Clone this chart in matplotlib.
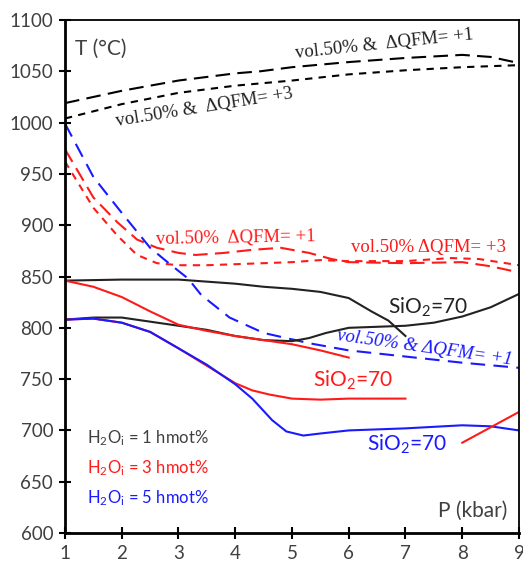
import matplotlib.pyplot as plt

plt.rcParams['font.family'] = ['Lato', 'DejaVu Sans']
plt.rcParams['mathtext.fontset'] = 'custom'
plt.rcParams['mathtext.rm'] = 'Lato'
plt.rcParams['mathtext.it'] = 'Lato:italic'

GREY = '#404040'
RED = '#ff1a1a'
BLUE = '#1a1aff'

# dashed curves (vol.50%)
blk_q1_x = [1, 2, 3, 4, 4.44, 5, 6, 7, 8, 8.5, 9]
blk_q1_t = [1019, 1031, 1041, 1048, 1050, 1054, 1059, 1063, 1066, 1064, 1058]
blk_q3_x = [1, 2, 3, 4, 5, 6, 7, 8, 9]
blk_q3_t = [1004, 1018, 1029, 1036, 1041, 1047, 1051, 1054, 1056]

red_q1_x = [1, 1.5, 1.92, 2.27, 2.62, 3.0, 3.3, 3.8, 4.3, 4.8, 5.3, 5.7, 6, 7, 8, 8.5, 9]
red_q1_t = [974, 927, 903, 886, 878, 873, 871, 873, 876, 878, 873, 867, 864, 863, 864, 860, 854]
red_q3_x = [1, 1.5, 1.92, 2.27, 2.62, 3.0, 3.5, 4, 5, 5.5, 6, 7, 7.8, 8.3, 9]
red_q3_t = [962, 917, 890, 871, 863, 861, 861, 862, 864, 866, 865, 865, 868, 867, 861]

blu_q1_x = [1, 1.5, 2, 2.5, 2.85, 3.17, 3.4, 3.9, 4.5, 5.3, 6, 7, 8, 9]
blu_q1_t = [999, 947, 912, 878, 862, 848, 832, 810, 795, 785, 778, 772, 766, 761]

# solid curves
blk_up_x = [1, 2, 2.5, 3, 3.5, 4, 4.5, 5, 5.5, 6, 6.4, 6.7, 7]
blk_up_t = [846, 847, 847, 847, 845, 843, 840, 838, 835, 829, 816, 807, 792]
blk_lo_x = [1, 1.5, 2, 2.5, 3, 3.5, 4, 4.5, 5, 5.3, 5.6, 6, 6.5, 7, 7.5, 8, 8.5, 9]
blk_lo_t = [808, 810, 810, 806, 802, 798, 792, 788, 787, 790, 795, 800, 801, 802, 805, 811, 820, 833]

red_up_x = [1, 1.5, 2, 2.5, 3, 3.5, 4, 4.5, 5, 5.5, 6]
red_up_t = [846, 840, 830, 816, 803, 797, 792, 788, 784, 778, 771]
red_lo_x = [1, 1.5, 2, 2.5, 3, 3.5, 4, 4.3, 4.6, 5, 5.5, 6, 7]
red_lo_t = [808, 809, 805, 796, 780, 763, 746, 739, 735, 731, 730, 731, 731]
red_seg_x = [8, 9]
red_seg_t = [688, 718]

blu_x = [1, 1.5, 2, 2.5, 3, 3.5, 4, 4.3, 4.65, 4.9, 5.2, 5.5, 6, 7, 8, 8.5, 9]
blu_t = [808, 809, 805, 796, 780, 764, 745, 731, 710, 699, 695, 697, 700, 702, 705, 704, 700]

fig = plt.figure(figsize=(5.23, 5.65), dpi=100)
ax = fig.add_axes([0.1243, 0.0566, 0.868, 0.908])

lw = 1.5
ax.plot(blk_q1_x, blk_q1_t, color='black', lw=lw, dashes=(7, 3.5))
ax.plot(blk_q3_x, blk_q3_t, color='black', lw=lw, dashes=(3.5, 3))
ax.plot(red_q1_x, red_q1_t, color=RED, lw=lw, dashes=(7, 3.5))
ax.plot(red_q3_x, red_q3_t, color=RED, lw=lw, dashes=(3.5, 3))
ax.plot(blu_q1_x, blu_q1_t, color=BLUE, lw=lw, dashes=(7, 4))

ax.plot(blk_up_x, blk_up_t, color='#222222', lw=lw)
ax.plot(blk_lo_x, blk_lo_t, color='#222222', lw=lw)
ax.plot(red_lo_x, red_lo_t, color=RED, lw=lw)
ax.plot(blu_x, blu_t, color=BLUE, lw=lw)
ax.plot(red_up_x, red_up_t, color=RED, lw=lw)
ax.plot(red_seg_x, red_seg_t, color=RED, lw=lw)

ax.set_xlim(1, 9)
ax.set_ylim(600, 1100)
ax.set_xticks(range(1, 10))
ax.set_yticks(range(600, 1101, 50))
ax.tick_params(direction='inout', length=9, width=1.5, labelsize=13.5,
               labelcolor=GREY, pad=4)
for s in ['left', 'bottom']:
    ax.spines[s].set_linewidth(2)
for s in ['top', 'right']:
    ax.spines[s].set_linewidth(1.3)

serif = 'Liberation Serif'
ax.text(6.62, 1076, 'vol.50% &  ΔQFM= +1', family=serif, fontsize=13.5, color='#222222',
        rotation=6, ha='center', va='center')
ax.text(3.46, 1015, 'vol.50% &  ΔQFM= +3', family=serif, fontsize=13.5, color='#222222',
        rotation=9, ha='center', va='center')
ax.text(4.0, 887, 'vol.50%  ΔQFM= +1', family=serif, fontsize=13.5, color=RED,
        rotation=1, ha='center', va='center')
ax.text(7.4, 878, 'vol.50% ΔQFM= +3', family=serif, fontsize=13.5, color=RED,
        ha='center', va='center')
ax.text(7.34, 780, 'vol.50% & ΔQFM= +1', family=serif, fontsize=13.5, color=BLUE,
        style='italic', rotation=-8, ha='center', va='center')

ax.text(7.4, 820, r'SiO$_2$=70', fontsize=15, color='#222222', ha='center', va='center')
ax.text(6.08, 749, r'SiO$_2$=70', fontsize=15, color=RED, ha='center', va='center')
ax.text(7.03, 686, r'SiO$_2$=70', fontsize=15, color=BLUE, ha='center', va='center')

ax.text(1.18, 1072, 'T (°C)', fontsize=15, color=GREY, ha='left', va='center')
ax.text(8.19, 622, 'P (kbar)', fontsize=15, color=GREY, ha='center', va='center')

ax.text(1.38, 692, r'H$_2$O$_\mathrm{i}$ = 1 hmot%', fontsize=12, color=GREY, va='center')
ax.text(1.38, 663, r'H$_2$O$_\mathrm{i}$ = 3 hmot%', fontsize=12, color=RED, va='center')
ax.text(1.38, 634, r'H$_2$O$_\mathrm{i}$ = 5 hmot%', fontsize=12, color=BLUE, va='center')

fig.savefig('out.png', dpi=100)
